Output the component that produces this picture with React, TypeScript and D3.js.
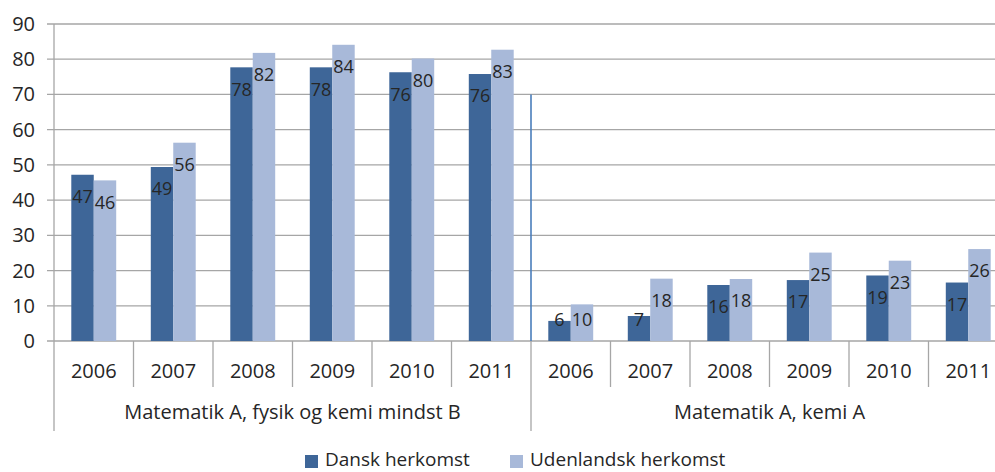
import React from 'react';
import * as d3 from 'd3';

const groups = ['Matematik A, fysik og kemi mindst B', 'Matematik A, kemi A'];
const years = ['2006', '2007', '2008', '2009', '2010', '2011'];
const seriesNames = ['Dansk herkomst', 'Udenlandsk herkomst'];
// first 6 = first group, last 6 = second group
const dansk = [47.2, 49.4, 77.7, 77.7, 76.3, 75.8, 5.7, 7.1, 15.9, 17.3, 18.6, 16.6];
const udenlandsk = [45.6, 56.3, 81.8, 84.1, 80.2, 82.7, 10.4, 17.7, 17.6, 25.1, 22.8, 26.1];
const yTicks = [0, 10, 20, 30, 40, 50, 60, 70, 80, 90];
const dividerTop = 70;

const colors = ['#3E6698', '#A8B9D9'];
const gridColor = '#A6A6A6';
const textColor = '#262626';
const font = '"Open Sans", "Noto Sans", sans-serif';

function App() {
    const W = 995;
    const H = 472;
    const left = 54;
    const right = 1008; // plot runs past the picture edge
    const top = 24;
    const bottom = 341;

    const cats = groups.flatMap(g => years.map(y => `${g}|${y}`));
    const series = [dansk, udenlandsk];

    const x = d3.scaleBand<string>().domain(cats).range([left, right]).paddingInner(0).paddingOuter(0);
    const xIn = d3.scaleBand<number>().domain([0, 1]).range([0, x.bandwidth()]).paddingInner(0).paddingOuter(0.77);
    const y = d3.scaleLinear().domain([0, 90]).range([bottom, top]);

    const groupX = d3.scaleBand<string>().domain(groups).range([left, right]);

    return (
        <div style={{position: 'fixed', left: 0, top: 0}}>
            <svg width={W} height={H} style={{display: 'block', background: '#fff'}} fontFamily={font}>
                {/* gridlines + ticks */}
                {yTicks.map(t => (
                    <g key={t}>
                        <line x1={left - 7} x2={right} y1={y(t)} y2={y(t)} stroke={gridColor} strokeWidth={1.3} />
                        <text x={35} y={y(t)} dy="0.35em" textAnchor="end" fontSize={20} fill={textColor}>{t}</text>
                    </g>
                ))}
                {/* y axis */}
                <line x1={left} x2={left} y1={top} y2={431} stroke={gridColor} strokeWidth={1.3} />

                {/* category separators */}
                {cats.map((c, i) => i === 0 ? null : (
                    <line key={c} x1={x(c)} x2={x(c)} y1={bottom} y2={i % years.length === 0 ? 431 : 387}
                        stroke={gridColor} strokeWidth={1.3} />
                ))}

                {/* bars */}
                {cats.map((c, i) => (
                    <g key={c} transform={`translate(${x(c)},0)`}>
                        {series.map((s, k) => (
                            <rect key={k} x={xIn(k)} y={y(s[i])} width={xIn.bandwidth()} height={bottom - y(s[i])} fill={colors[k]} />
                        ))}
                    </g>
                ))}

                {/* value labels */}
                {cats.map((c, i) => (
                    <g key={c} transform={`translate(${x(c)},0)`}>
                        {series.map((s, k) => (
                            <text key={k} x={(xIn(k) as number) + xIn.bandwidth() / 2} y={Math.min(y(s[i]) + 22, bottom - 21)}
                                dy="0.35em" textAnchor="middle" fontSize={18} fill={textColor}>{Math.round(s[i])}</text>
                        ))}
                    </g>
                ))}

                {/* divider between groups */}
                <line x1={groupX(groups[1])} x2={groupX(groups[1])} y1={y(dividerTop)} y2={bottom} stroke="#4A7EBB" strokeWidth={1.6} />

                {/* year labels */}
                {cats.map(c => (
                    <text key={c} x={(x(c) as number) + x.bandwidth() / 2} y={371} dy="0.35em" textAnchor="middle" fontSize={20} fill={textColor}>
                        {c.split('|')[1]}
                    </text>
                ))}
                {/* group labels */}
                {groups.map(g => (
                    <text key={g} x={(groupX(g) as number) + groupX.bandwidth() / 2} y={412} dy="0.35em" textAnchor="middle" fontSize={20} fill={textColor}>{g}</text>
                ))}

                {/* legend */}
                {seriesNames.map((n, k) => {
                    const lx = k === 0 ? 305 : 510;
                    return (
                        <g key={n} transform={`translate(${lx},455)`}>
                            <rect x={0} y={0} width={13} height={13} fill={colors[k]} />
                            <text x={20} y={11} fontSize={19} fill={textColor}>{n}</text>
                        </g>
                    );
                })}
            </svg>
        </div>
    );
}

export default App;
